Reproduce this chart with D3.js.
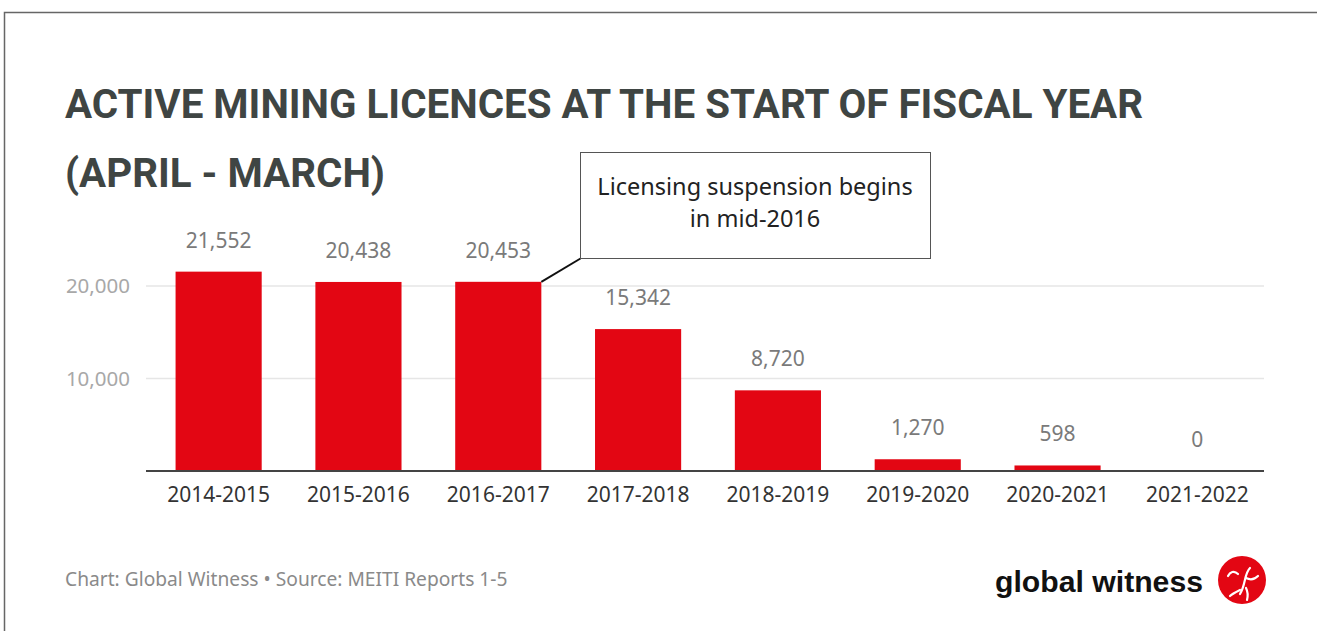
<!DOCTYPE html>
<html>
<head>
<meta charset="utf-8">
<script src="https://cdn.jsdelivr.net/npm/d3@7"></script>
<style>
  body { margin: 0; background: #fff; }
  svg { display: block; }
</style>
</head>
<body>
<script>
/* Data */
var years = ["2014-2015", "2015-2016", "2016-2017", "2017-2018", "2018-2019", "2019-2020", "2020-2021", "2021-2022"];
var licences = [21552, 20438, 20453, 15342, 8720, 1270, 598, 0];
var yTicks = [10000, 20000];
var titleLines = ["ACTIVE MINING LICENCES AT THE START OF FISCAL YEAR", "(APRIL - MARCH)"];
var noteLines = ["Licensing suspension begins", "in mid-2016"];
var noteYear = "2016-2017";
var credit = "Chart: Global Witness \u2022 Source: MEITI Reports 1-5";

var width = 1317, height = 631;
var red = "#e30613";
var font = "'Source Sans Pro', 'Noto Sans', sans-serif";

var svg = d3.select("body").append("svg")
    .attr("width", width)
    .attr("height", height);

/* outer frame */
svg.append("rect")
    .attr("x", 4.5).attr("y", 12.5)
    .attr("width", width + 10).attr("height", height + 10)
    .attr("fill", "none").attr("stroke", "#666").attr("stroke-width", 1.5);

/* title */
svg.selectAll(".title")
    .data(titleLines)
    .enter().append("text")
    .attr("class", "title")
    .attr("x", 65)
    .attr("y", function(d, i) { return 118 + i * 69; })
    .attr("fill", "#3f4543")
    .attr("font-family", "Roboto, sans-serif")
    .attr("font-weight", "bold")
    .attr("font-size", 40)
    .attr("textLength", function(d, i) { return i === 0 ? 1078 : 320; })
    .attr("lengthAdjust", "spacingAndGlyphs")
    .text(function(d) { return d; });

/* scales */
var x = d3.scaleBand()
    .domain(years)
    .range([149, 1267])
    .paddingInner(0.384)
    .paddingOuter(0.19);

var y = d3.scaleLinear()
    .domain([0, 20000])
    .range([471, 286]);

/* gridlines */
svg.append("g")
    .selectAll("line")
    .data(yTicks)
    .enter().append("line")
    .attr("x1", 146).attr("x2", 1264)
    .attr("y1", function(d) { return y(d); })
    .attr("y2", function(d) { return y(d); })
    .attr("stroke", "#e6e6e6")
    .attr("stroke-width", 1.5);

/* y tick labels */
svg.append("g")
    .selectAll("text")
    .data(yTicks)
    .enter().append("text")
    .attr("x", 130)
    .attr("y", function(d) { return y(d) + 7; })
    .attr("text-anchor", "end")
    .attr("fill", "#a8a8a8")
    .attr("font-family", font)
    .attr("font-size", 20.5)
    .text(function(d) { return d3.format(",")(d); });

/* bars */
svg.append("g")
    .selectAll("rect")
    .data(licences)
    .enter().append("rect")
    .attr("x", function(d, i) { return x(years[i]); })
    .attr("y", function(d) { return y(d); })
    .attr("width", x.bandwidth())
    .attr("height", function(d) { return y(0) - y(d); })
    .attr("fill", red);

/* value labels */
svg.append("g")
    .selectAll("text")
    .data(licences)
    .enter().append("text")
    .attr("x", function(d, i) { return x(years[i]) + x.bandwidth() / 2; })
    .attr("y", function(d) { return y(d) - 24; })
    .attr("text-anchor", "middle")
    .attr("fill", "#7a7a7a")
    .attr("font-family", font)
    .attr("font-size", 21)
    .text(function(d) { return d3.format(",")(d); });

/* x axis */
var xAxis = d3.axisBottom(x).tickSize(0).tickPadding(16);
var gx = svg.append("g")
    .attr("transform", "translate(0," + y(0) + ")")
    .call(xAxis);
gx.select(".domain").remove();
gx.selectAll(".tick text")
    .attr("fill", "#333")
    .attr("font-family", font)
    .attr("font-size", 21);
gx.append("line")
    .attr("x1", 146).attr("x2", 1264)
    .attr("stroke", "#444").attr("stroke-width", 2);

/* annotation */
var nx = x(noteYear) + x.bandwidth();
var ny = y(licences[years.indexOf(noteYear)]);
svg.append("line")
    .attr("x1", nx).attr("y1", ny)
    .attr("x2", 580.5).attr("y2", 258.5)
    .attr("stroke", "#111").attr("stroke-width", 2);
svg.append("rect")
    .attr("x", 580.5).attr("y", 152.5)
    .attr("width", 350).attr("height", 106)
    .attr("fill", "#fff").attr("stroke", "#555").attr("stroke-width", 1);
svg.selectAll(".note")
    .data(noteLines)
    .enter().append("text")
    .attr("class", "note")
    .attr("x", 755)
    .attr("y", function(d, i) { return 195 + i * 32; })
    .attr("text-anchor", "middle")
    .attr("fill", "#222")
    .attr("font-family", font)
    .attr("font-size", 23.5)
    .text(function(d) { return d; });

/* credit */
svg.append("text")
    .attr("x", 65).attr("y", 586)
    .attr("fill", "#8a8a8a")
    .attr("font-family", font)
    .attr("font-size", 19.2)
    .text(credit);

/* logo */
svg.append("text")
    .attr("x", 995).attr("y", 592)
    .attr("fill", "#111")
    .attr("font-family", "'Liberation Sans', Arial, sans-serif")
    .attr("font-weight", "bold")
    .attr("font-size", 30)
    .attr("textLength", 208)
    .attr("lengthAdjust", "spacingAndGlyphs")
    .text("global witness");

var logo = svg.append("g").attr("transform", "translate(1242,580)");
logo.append("circle").attr("r", 24).attr("fill", red);
var arrows = [
    "M-2,14 C4,4 2,-6 8,-12",
    "M-4,-6 C-8,-10 -12,-8 -14,-4",
    "M4,-2 C8,0 12,0 16,-4",
    "M-2,10 C-6,12 -10,14 -12,16",
    "M4,8 C6,12 6,16 5,20"
];
logo.selectAll("path")
    .data(arrows)
    .enter().append("path")
    .attr("d", function(d) { return d; })
    .attr("fill", "none")
    .attr("stroke", "#fff")
    .attr("stroke-width", 2.2)
    .attr("stroke-linecap", "round");
</script>
</body>
</html>
